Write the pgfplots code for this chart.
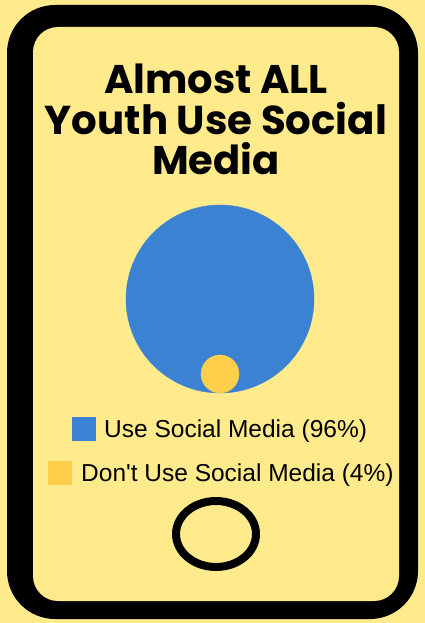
\documentclass[border=0pt]{standalone}
\usepackage{pgfplots}
\pgfplotsset{compat=1.18}
\usepackage{fontspec}
\setmainfont{Liberation Sans}
\newfontfamily\legendfont{Liberation Sans}
\newfontfamily\titlefont{Poppins}
\definecolor{bgyellow}{RGB}{255,235,140}
\definecolor{myblue}{RGB}{60,130,210}
\definecolor{myyellow}{RGB}{255,207,76}
\begin{document}
\begin{tikzpicture}
\begin{axis}[width=425pt,height=623pt,scale only axis,
  xmin=0,xmax=425,ymin=0,ymax=623,y dir=reverse,
  hide axis,clip=false]
\fill[bgyellow] (axis cs:0,0) rectangle (axis cs:425,623);
\fill[black,rounded corners=48pt] (axis cs:7,5) rectangle (axis cs:418,619);
\fill[bgyellow,rounded corners=25pt] (axis cs:33,27) rectangle (axis cs:399,601);
% Use Social Media: 96%
\addplot[only marks,mark=*,mark size=94pt,color=myblue,mark options={draw=none,fill=myblue}] coordinates {(220,299)};
% Don't Use Social Media: 4%
\addplot[only marks,mark=*,mark size=19pt,color=myyellow,mark options={draw=none,fill=myyellow}] coordinates {(220,374)};
\node[anchor=base,font=\titlefont\bfseries\fontsize{40}{40}\selectfont] at (axis cs:216,94) {Almost ALL};
\node[anchor=base,font=\titlefont\bfseries\fontsize{40.3}{40}\selectfont] at (axis cs:216,135) {Youth Use Social};
\node[anchor=base,font=\titlefont\bfseries\fontsize{40}{40}\selectfont] at (axis cs:216,174) {Media};
\fill[myblue] (axis cs:72,417) rectangle (axis cs:96,441);
\node[anchor=base west,inner sep=0pt,font=\legendfont\fontsize{24.5}{24.5}\selectfont] at (axis cs:104,437) {Use Social Media (96\%)};
\fill[myyellow] (axis cs:48,461) rectangle (axis cs:72,485);
\node[anchor=base west,inner sep=0pt,font=\legendfont\fontsize{24.5}{24.5}\selectfont] at (axis cs:81,481) {Don't Use Social Media (4\%)};
\draw[black,line width=8pt] (axis cs:216,534) ellipse [x radius=40pt,y radius=33pt];
\end{axis}
\end{tikzpicture}
\end{document}
